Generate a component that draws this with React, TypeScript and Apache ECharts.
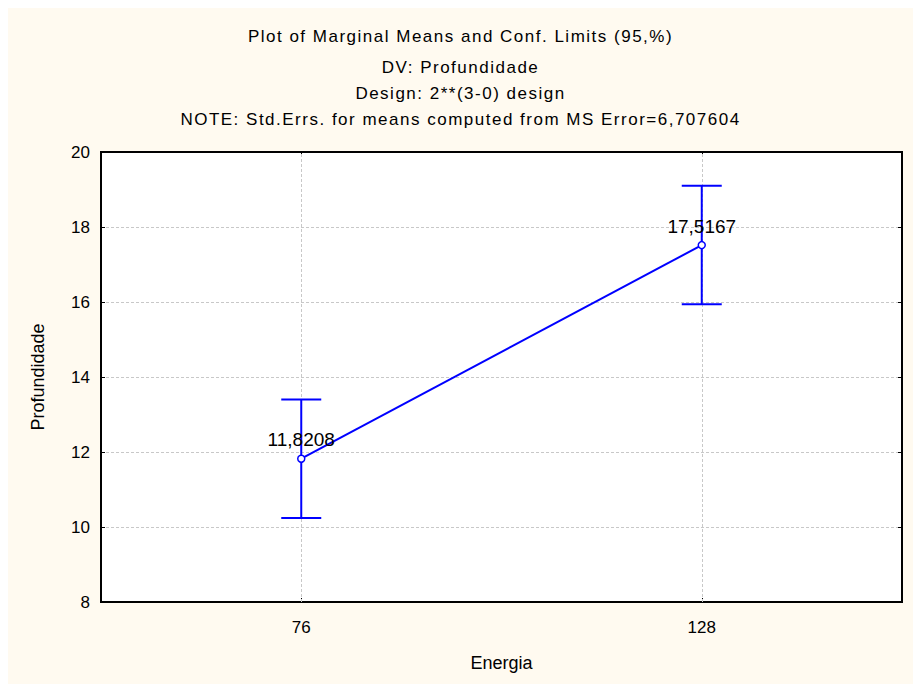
import React, { useEffect, useRef } from "react";
import * as echarts from "echarts";

const titleLines = [
  "Plot of Marginal Means and Conf. Limits (95,%)",
  "DV: Profundidade",
  "Design: 2**(3-0) design",
  "NOTE: Std.Errs. for means computed from MS Error=6,707604",
];
const categories = ["76", "128"];
const means = [11.8208, 17.5167];
const lowerCI = [10.24, 15.94];
const upperCI = [13.4, 19.1];
const yTicks = { min: 8, max: 20, interval: 2 };
const xName = "Energia";
const yName = "Profundidade";

const FONT = "'Liberation Sans', Arial, sans-serif";
const BLUE = "#0000ff";

export default function App() {
  const ref = useRef<HTMLDivElement>(null);
  useEffect(() => {
    if (!ref.current) return;
    const chart = echarts.init(ref.current, null, { renderer: "svg" });
    const titleTops = [20, 51, 77, 103];
    chart.setOption({
      animation: false,
      backgroundColor: "#fffaf0",
      textStyle: { fontFamily: FONT },
      title: titleLines.map((t, i) => ({
        text: t,
        left: "center",
        top: titleTops[i],
        padding: 0,
        textStyle: { fontSize: 17, fontWeight: "normal", color: "#000", fontFamily: FONT },
      })),
      grid: {
        left: 93,
        top: 144,
        right: 11,
        bottom: 82,
        show: true,
        backgroundColor: "#ffffff",
        borderColor: "#000",
        borderWidth: 2,
      },
      xAxis: [
        {
          type: "category",
          data: categories,
          boundaryGap: true,
          name: xName,
          nameLocation: "middle",
          nameGap: 52,
          nameTextStyle: { fontSize: 18, color: "#000", fontFamily: FONT },
          axisLine: { show: true, lineStyle: { color: "#000", width: 2 } },
          axisTick: { show: true, alignWithLabel: true, inside: true, length: 4, lineStyle: { color: "#000" } },
          axisLabel: { fontSize: 17, color: "#000", margin: 17, fontFamily: FONT },
          splitLine: { show: false },
        },
        {
          type: "category",
          data: categories,
          position: "top",
          boundaryGap: true,
          axisLine: { show: true, lineStyle: { color: "#000", width: 2 } },
          axisTick: { show: true, alignWithLabel: true, inside: true, length: 4, lineStyle: { color: "#000" } },
          axisLabel: { show: false },
          splitLine: { show: false },
        },
      ],
      yAxis: [
        {
          type: "value",
          min: yTicks.min,
          max: yTicks.max,
          interval: yTicks.interval,
          name: yName,
          nameLocation: "middle",
          nameGap: 54,
          nameTextStyle: { fontSize: 18, color: "#000", fontFamily: FONT },
          axisLine: { show: true, lineStyle: { color: "#000", width: 2 } },
          axisTick: { show: true, inside: true, length: 4, lineStyle: { color: "#000" } },
          axisLabel: { fontSize: 17, color: "#000", margin: 11, fontFamily: FONT },
          splitLine: { show: true, lineStyle: { color: "#c8c8c8", type: [3, 2], width: 1 } },
        },
        {
          type: "value",
          min: yTicks.min,
          max: yTicks.max,
          interval: yTicks.interval,
          position: "right",
          axisLine: { show: true, lineStyle: { color: "#000", width: 2 } },
          axisTick: { show: true, inside: true, length: 4, lineStyle: { color: "#000" } },
          axisLabel: { show: false },
          splitLine: { show: false },
        },
      ],
      series: [
        {
          type: "custom",
          xAxisIndex: 0,
          yAxisIndex: 0,
          z: 3,
          silent: true,
          renderItem: (params: any, api: any) => {
            const x = api.value(0);
            const lo = api.coord([x, api.value(1)]);
            const hi = api.coord([x, api.value(2)]);
            const hw = 20;
            const style = { stroke: BLUE, lineWidth: 2 };
            return {
              type: "group",
              children: [
                { type: "line", shape: { x1: lo[0], y1: lo[1], x2: hi[0], y2: hi[1] }, style },
                { type: "line", shape: { x1: lo[0] - hw, y1: lo[1], x2: lo[0] + hw, y2: lo[1] }, style },
                { type: "line", shape: { x1: hi[0] - hw, y1: hi[1], x2: hi[0] + hw, y2: hi[1] }, style },
              ],
            };
          },
          encode: { x: 0, y: [1, 2] },
          data: categories.map((c, i) => [i, lowerCI[i], upperCI[i]]),
        },
        {
          type: "line",
          xAxisIndex: 0,
          yAxisIndex: 0,
          z: 4,
          data: means,
          symbol: "circle",
          symbolSize: 7,
          itemStyle: { color: "#fff", borderColor: BLUE, borderWidth: 1.5 },
          lineStyle: { color: BLUE, width: 2 },
          label: {
            show: true,
            position: "top",
            distance: 5,
            fontSize: 19,
            color: "#000",
            fontFamily: FONT,
            formatter: (p: any) => String(p.value).replace(".", ","),
          },
          markLine: {
            silent: true,
            symbol: "none",
            label: { show: false },
            lineStyle: { color: "#c8c8c8", type: [3, 2], width: 1 },
            data: categories.map((c) => ({ xAxis: c })),
            z: 1,
          },
        },
      ],
    });
    // widen the title lines slightly, as in the reference rendering
    ref.current.querySelectorAll("text").forEach((el) => {
      if (titleLines.includes((el.textContent || "").trim())) {
        el.setAttribute("letter-spacing", "1.5");
      }
    });
    return () => chart.dispose();
  }, []);
  return (
    <div
      ref={ref}
      style={{ position: "absolute", left: 8, top: 8, width: 905, height: 676 }}
    />
  );
}
